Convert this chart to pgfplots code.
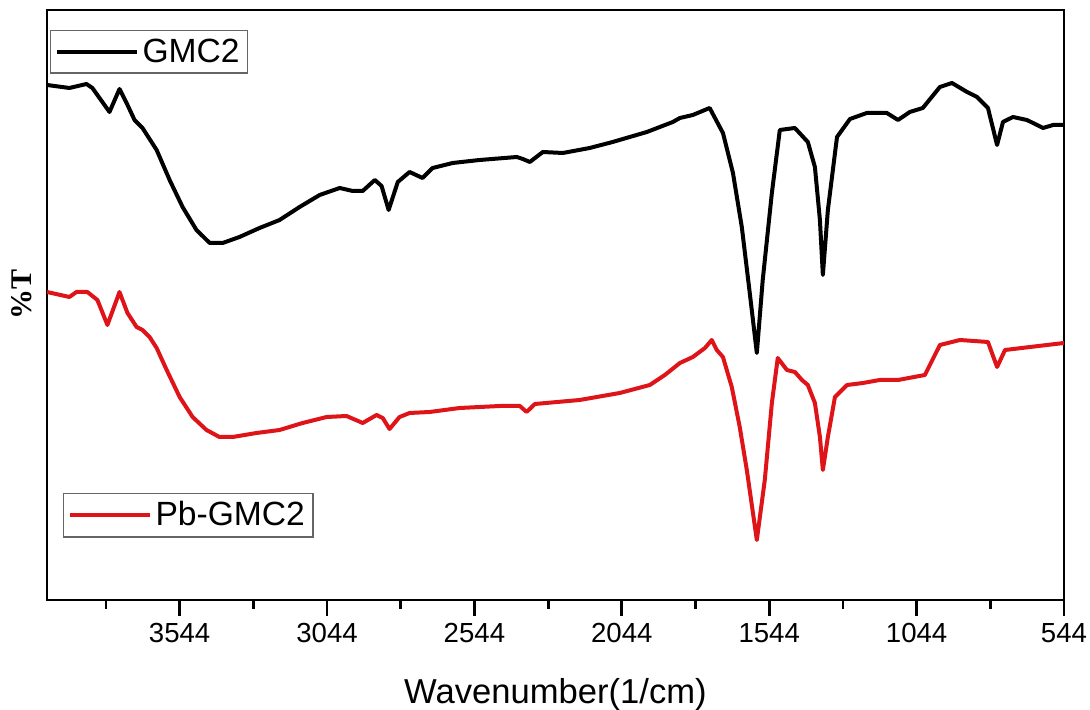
\documentclass[border=0pt]{standalone}
\usepackage{fontspec}
\setmainfont{Liberation Sans}
\newfontfamily\serifb{Liberation Serif}
\usepackage{pgfplots}
\pgfplotsset{compat=1.18}
\definecolor{spred}{RGB}{222,20,24}

\begin{document}
\begin{tikzpicture}
\useasboundingbox (-23.5pt,-55pt) rectangle (521.5pt,300pt);
\pgfplotsset{myax/.style={
  at={(0,0)}, anchor=south west, scale only axis,
  width=508.5pt, height=295pt,
  x dir=reverse, xmin=544, xmax=3994, ymin=0, ymax=590,
  legend cell align=left,
  legend image code/.code={\draw[##1, line width=2pt] (0pt,0pt) -- (40pt,0pt);},
}}
\begin{axis}[myax,
  axis line style={line width=1.4pt},
  xtick={544,1044,1544,2044,2544,3044,3544},
  minor xtick={794,1294,1794,2294,2794,3294,3794},
  ytick=\empty,
  xtick pos=bottom,
  tick align=outside,
  major tick length=8pt, minor tick length=4.5pt,
  every tick/.style={line width=1.4pt, black},
  /pgf/number format/assume math mode=true,
  xticklabel={\pgfmathprintnumber[fixed,1000 sep={}]{\tick}},
  xticklabel style={font=\fontsize{13.8}{16}\selectfont},
  xlabel={Wavenumber(1/cm)},
  xlabel style={at={(axis description cs:0.5,0)}, anchor=north, yshift=-39pt, inner sep=0pt, font=\fontsize{17.3}{20}\selectfont},
  ylabel={\%T},
  ylabel style={at={(axis description cs:-0.0246,0.517)}, anchor=center, font=\serifb\bfseries\fontsize{15}{18}\selectfont},
  legend style={at={(0.00295,0.9661)}, anchor=north west, draw=black!60, line width=0.6pt, font=\fontsize{16.8}{20}\selectfont, inner xsep=2pt, inner ysep=2pt},
]
\addplot[black, line width=2pt, line join=round] coordinates {
(3994,515) (3918,512) (3860,516) (3840,512) (3782,488) (3748,511) (3724,497)
(3697,480) (3670,472) (3622,450) (3578,420) (3534,393) (3487,370) (3442,357)
(3398,357) (3341,363) (3273,372) (3205,380) (3137,393) (3069,405) (3001,412)
(2957,409) (2923,409) (2882,420) (2859,414) (2835,390) (2804,418) (2764,428)
(2720,422) (2686,432) (2618,437) (2526,440) (2400,443) (2380,441) (2356,438)
(2312,448) (2244,447) (2153,452) (2075,458) (1959,468) (1871,478) (1847,482)
(1803,485) (1746,492) (1701,467) (1667,427) (1637,373) (1610,307) (1586,247)
(1566,320) (1535,407) (1508,470) (1457,472) (1413,458) (1389,433) (1372,380)
(1362,325) (1345,390) (1314,463) (1270,481) (1213,487) (1169,487) (1145,487)
(1107,480) (1067,488) (1023,492) (965,513) (924,517) (873,508) (839,503)
(802,492) (771,455) (751,478) (717,483) (670,480) (649,477) (615,472)
(581,475) (544,475)
};
\addlegendentry{GMC2}
\end{axis}
\begin{axis}[myax, hide axis,
  legend style={at={(0.0157,0.1814)}, anchor=north west, draw=black!60, line width=0.6pt, font=\fontsize{16.8}{20}\selectfont, inner xsep=2pt, inner ysep=2pt},
]
\addplot[spred, line width=2pt, line join=round] coordinates {
(3994,308) (3918,303) (3894,308) (3857,308) (3823,300) (3789,275) (3748,308)
(3721,287) (3690,273) (3670,270) (3646,263) (3622,252) (3588,230) (3544,203)
(3500,183) (3453,170) (3409,163) (3364,163) (3283,167) (3205,170) (3127,177)
(3045,183) (2978,184) (2923,177) (2876,185) (2855,182) (2832,171) (2798,183)
(2764,187) (2696,188) (2594,192) (2458,194) (2390,194) (2367,188) (2339,196)
(2187,200) (2051,207) (1949,215) (1898,225) (1847,237) (1803,243) (1762,252)
(1739,260) (1722,250) (1701,243) (1671,213) (1644,173) (1620,130) (1586,60)
(1559,120) (1535,197) (1515,242) (1484,230) (1457,228) (1433,220) (1413,215)
(1389,197) (1372,163) (1362,130) (1345,163) (1321,203) (1280,215) (1226,217)
(1169,220) (1107,220) (1016,225) (965,255) (897,260) (802,258) (771,233)
(744,250) (659,253) (544,257)
};
\addlegendentry{Pb-GMC2}
\end{axis}
\end{tikzpicture}
\end{document}
